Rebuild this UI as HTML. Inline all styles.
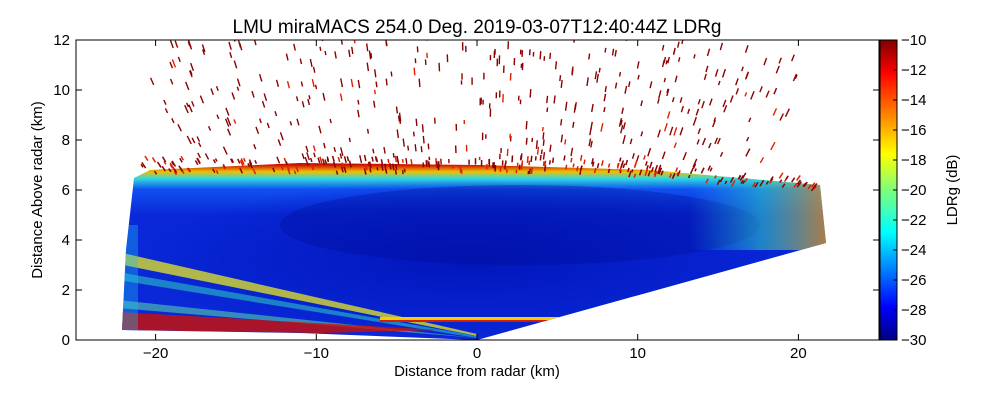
<!DOCTYPE html>
<html><head><meta charset="utf-8">
<style>
html,body{margin:0;padding:0;background:#fff;}
svg{display:block;font-family:"Liberation Sans",sans-serif;}
</style></head>
<body>
<svg id="chart" width="1000" height="400" viewBox="0 0 1000 400">
<defs>
  <linearGradient id="jet" x1="0" y1="1" x2="0" y2="0">
    <stop offset="0" stop-color="#00007f"/>
    <stop offset="0.11" stop-color="#0000ff"/>
    <stop offset="0.36" stop-color="#00ffff" />
    <stop offset="0.5" stop-color="#7dff7a"/>
    <stop offset="0.62" stop-color="#ffff00"/>
    <stop offset="0.89" stop-color="#ff0000"/>
    <stop offset="1" stop-color="#800000"/>
  </linearGradient>
  <linearGradient id="topband" gradientUnits="userSpaceOnUse" x1="0" y1="158" x2="0" y2="215">
    <stop offset="0" stop-color="#8a0000"/>
    <stop offset="0.12" stop-color="#d01000"/>
    <stop offset="0.24" stop-color="#f0c000"/>
    <stop offset="0.36" stop-color="#30d8e0"/>
    <stop offset="0.55" stop-color="#1050f0"/>
    <stop offset="1" stop-color="#0a28d8"/>
  </linearGradient>
  <radialGradient id="core" cx="0.5" cy="0.5" r="0.5">
    <stop offset="0" stop-color="#0010b0" stop-opacity="0.8"/>
    <stop offset="0.7" stop-color="#0018c0" stop-opacity="0.4"/>
    <stop offset="1" stop-color="#0018c0" stop-opacity="0"/>
  </radialGradient>
  <linearGradient id="rightband" x1="0" y1="0" x2="1" y2="0">
    <stop offset="0" stop-color="#20d0e0" stop-opacity="0"/>
    <stop offset="0.5" stop-color="#30e0c0" stop-opacity="0.5"/>
    <stop offset="1" stop-color="#ffa000" stop-opacity="0.7"/>
  </linearGradient>
  <clipPath id="fan"><polygon points="122,330 126,250 134,178 150,170 300,163 477,165 650,170 820,185 826,243 477,340 300,333"/></clipPath>
  <clipPath id="plotclip"><rect x="76" y="40" width="803" height="300"/></clipPath>
</defs>

<text x="477" y="33" font-size="19" text-anchor="middle">LMU miraMACS 254.0 Deg. 2019-03-07T12:40:44Z  LDRg</text>

<g>
  <rect x="76" y="40" width="803" height="300" fill="#fff"/>
  <g clip-path="url(#fan)">
    <rect x="100" y="150" width="740" height="200" fill="url(#topband)"/>
    <ellipse cx="470" cy="260" rx="340" ry="80" fill="url(#core)"/>
    <ellipse cx="520" cy="225" rx="240" ry="40" fill="#000a90" opacity="0.3"/>
    <rect x="690" y="180" width="140" height="70" fill="url(#rightband)"/>
    <polygon points="118,252 118,264 477,336 477,334" fill="#e8e820" opacity="0.75"/>
    <polygon points="118,272 118,280 477,338 477,336" fill="#30e0c0" opacity="0.5"/>
    <polygon points="118,300 118,308 477,338" fill="#60f0a0" opacity="0.5"/>
    <polygon points="118,312 118,330 320,333 440,330" fill="#d01000" opacity="0.8"/>
    <rect x="380" y="317" width="180" height="5" fill="#f0d000"/>
    <rect x="380" y="320" width="180" height="2" fill="#d02000"/>
    <rect x="118" y="225" width="20" height="110" fill="#20c0f0" opacity="0.35"/>
  </g>
  <g id="dashes" clip-path="url(#plotclip)"></g>
  <rect x="76" y="40" width="803" height="300" fill="none" stroke="#000" stroke-width="1"/>
  <g id="xticks"></g>
  <g id="yticks"></g>
</g>

<text x="477" y="376" font-size="15" text-anchor="middle">Distance from radar (km)</text>
<text transform="translate(42,190) rotate(-90)" font-size="15" text-anchor="middle">Distance Above radar  (km)</text>

<g>
  <rect x="880" y="40" width="17" height="300" fill="url(#jet)" stroke="#000" stroke-width="1"/>
  <g id="cticks"></g>
  <text transform="translate(957,190) rotate(-90)" font-size="15" text-anchor="middle">LDRg (dB)</text>
</g>

<script>
const xTickValues = [-20, -10, 0, 10, 20];
const yTickValues = [0, 2, 4, 6, 8, 10, 12];
const cTickValues = [-10, -12, -14, -16, -18, -20, -22, -24, -26, -28, -30];
const NS = "http://www.w3.org/2000/svg";
const xs = v => 477 + (v) * 16.07;
const ys = v => 340 - v * 25;
const cs = v => 40 + (-10 - v) * 15;
function mk(tag, attrs, parent){ const e=document.createElementNS(NS,tag); for(const k in attrs) e.setAttribute(k,attrs[k]); parent.appendChild(e); return e; }
const xg=document.getElementById('xticks'), yg=document.getElementById('yticks'), cg=document.getElementById('cticks');
xTickValues.forEach(v=>{
  const x=xs(v);
  mk('line',{x1:x,y1:340,x2:x,y2:334,stroke:'#000'},xg);
  mk('line',{x1:x,y1:40,x2:x,y2:46,stroke:'#000'},xg);
  const t=mk('text',{x:x,y:358,'font-size':15,'text-anchor':'middle'},xg);
  t.textContent=v<0?'\u2212'+(-v):v;
  
  
});
yTickValues.forEach(v=>{
  const y=ys(v);
  mk('line',{x1:76,y1:y,x2:82,y2:y,stroke:'#000'},yg);
  mk('line',{x1:879,y1:y,x2:873,y2:y,stroke:'#000'},yg);
  const t=mk('text',{x:70,y:y+5,'font-size':15,'text-anchor':'end'},yg);
  t.textContent=v;
  
  
});
cTickValues.forEach(v=>{
  const y=cs(v);
  mk('line',{x1:893,y1:y,x2:897,y2:y,stroke:'#000'},cg);
  const t=mk('text',{x:901,y:y+5,'font-size':15},cg);
  t.textContent='\u2212'+(-v);
  
  
});
// sparse high-altitude echoes (decorative texture, steep radial short dashes)
const dg=document.getElementById('dashes');
let s=98765;
function rnd(){ s=(s*1103515245+12345)%2147483648; return s/2147483648; }
function dash(xk,yk,len,col,w){
  const px=xk*16*0.35, py=yk*25;
  const r=Math.hypot(px,py);
  const x=xs(xk), y=ys(yk);
  const ln=mk('line',{x1:x,y1:y,x2:x+px/r*len,y2:y-py/r*len,stroke:col,'stroke-width':w},dg);
  
  
}
for(let i=0;i<360;i++){
  const yk=6.9+rnd()*5.2;
  const lim=Math.min(20.5, 13+yk*0.7);
  const xk=-lim+rnd()*2*lim;
  if(Math.hypot(xk,yk)>23.5) continue;
  dash(xk,yk,4+rnd()*5,rnd()<0.1?'#e02000':'#8b0000',1.4);
}
// ragged cloud top
for(let i=0;i<240;i++){
  const xk=-21+rnd()*42;
  const base=6.6-Math.max(0,xk-8)*0.06;
  const yk=base+rnd()*0.6;
  dash(xk,yk,3+rnd()*4,rnd()<0.3?'#e02000':'#8b0000',1.5);
}
</script>
</svg>
</body></html>
